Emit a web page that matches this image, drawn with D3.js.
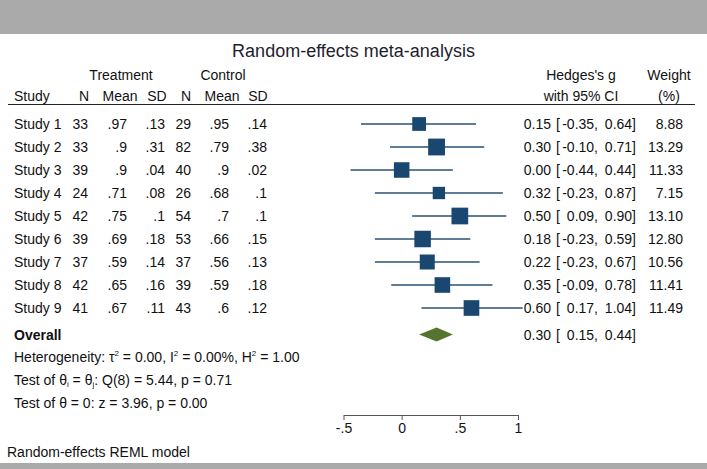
<!DOCTYPE html>
<html>
<head>
<meta charset="utf-8">
<script src="https://cdn.jsdelivr.net/npm/d3@7"></script>
<style>
  body { margin: 0; background: #fff; }
  svg text { font-family: "Liberation Sans", Arial, sans-serif; fill: #111; }
</style>
</head>
<body>
<svg id="mainsvg" width="707" height="469"></svg>
<script>
// study table
const studies  = ["Study 1","Study 2","Study 3","Study 4","Study 5","Study 6","Study 7","Study 8","Study 9"];
const trtN     = [33, 33, 39, 24, 42, 39, 37, 42, 41];
const trtMean  = [.97, .9, .9, .71, .75, .69, .59, .65, .67];
const trtSD    = [.13, .31, .04, .08, .1, .18, .14, .16, .11];
const ctlN     = [29, 82, 40, 26, 54, 53, 37, 39, 43];
const ctlMean  = [.95, .79, .9, .68, .7, .66, .56, .59, .6];
const ctlSD    = [.14, .38, .02, .1, .1, .15, .13, .18, .12];
// effect sizes
const effect   = [0.15, 0.30, 0.00, 0.32, 0.50, 0.18, 0.22, 0.35, 0.60];
const lower    = [-0.35, -0.10, -0.44, -0.23, 0.09, -0.23, -0.23, -0.09, 0.17];
const upper    = [0.64, 0.71, 0.44, 0.87, 0.90, 0.59, 0.67, 0.78, 1.04];
const weight   = [8.88, 13.29, 11.33, 7.15, 13.10, 12.80, 10.56, 11.41, 11.49];
const overall  = [0.30, 0.15, 0.44];
const ticks    = [-0.5, 0, 0.5, 1];

const svg = d3.select("#mainsvg");
const fs = 14;

// gray bands
svg.append("rect").attr("x", 0).attr("y", 0).attr("width", 707).attr("height", 34).attr("fill", "#aaaaaa");
svg.append("rect").attr("x", 0).attr("y", 463).attr("width", 707).attr("height", 6).attr("fill", "#aaaaaa");

svg.append("text").attr("x", 353.5).attr("y", 57).attr("text-anchor", "middle")
  .style("font-size", "18px").style("fill", "#1e1e2e").text("Random-effects meta-analysis");

function txt(x, y, s, anchor) {
  return svg.append("text").attr("x", x).attr("y", y)
    .attr("text-anchor", anchor || "start").style("font-size", fs + "px").text(s);
}

// headers
txt(121, 80, "Treatment", "middle");
txt(223, 80, "Control", "middle");
txt(581, 80, "Hedges's g", "middle");
txt(669, 80, "Weight", "middle");
txt(14, 101, "Study");
[["N", 84], ["Mean", 120], ["SD", 157], ["N", 186], ["Mean", 222], ["SD", 258]]
  .forEach(h => txt(h[1], 101, h[0], "middle"));
txt(581, 101, "with 95% CI", "middle");
txt(669, 101, "(%)", "middle");

svg.append("line").attr("x1", 8).attr("x2", 695).attr("y1", 104.5).attr("y2", 104.5)
  .style("stroke", "#222").style("stroke-width", 1);

const y = d3.scaleLinear().domain([0, 8]).range([124, 308]);
const x = d3.scaleLinear().domain([-0.5, 1]).range([343.5, 518]);
const short = v => String(v).replace(/^0\./, ".");
const f2 = v => d3.format(".2f")(v).replace("\u2212", "-");

studies.forEach((s, i) => {
  const yb = y(i) + 5;
  txt(14, yb, s);
  txt(88, yb, trtN[i], "end");
  txt(127, yb, short(trtMean[i]), "end");
  txt(165, yb, short(trtSD[i]), "end");
  txt(191, yb, ctlN[i], "end");
  txt(229, yb, short(ctlMean[i]), "end");
  txt(267, yb, short(ctlSD[i]), "end");
  txt(551, yb, f2(effect[i]), "end");
  txt(556, yb, "[");
  txt(598, yb, f2(lower[i]) + ",", "end");
  txt(636, yb, f2(upper[i]) + "]", "end");
  txt(683, yb, f2(weight[i]), "end");
});

// CI lines and squares
const g = svg.append("g");
g.selectAll("line.ci").data(studies).enter().append("line")
  .attr("x1", (d, i) => x(lower[i])).attr("x2", (d, i) => x(upper[i]))
  .attr("y1", (d, i) => y(i)).attr("y2", (d, i) => y(i))
  .style("stroke", "#2b5275").style("stroke-width", 1.4);
const side = d3.scaleSqrt().domain([0, 10]).range([0, 14.6]);
g.selectAll("rect.box").data(studies).enter().append("rect")
  .attr("x", (d, i) => x(effect[i]) - side(weight[i]) / 2)
  .attr("y", (d, i) => y(i) - side(weight[i]) / 2)
  .attr("width", (d, i) => side(weight[i]))
  .attr("height", (d, i) => side(weight[i]))
  .style("fill", "#1a476f");

// overall
const yo = 334.5;
g.append("path")
  .attr("d", d3.line()([[x(overall[1]), yo], [x(overall[0]), yo - 7], [x(overall[2]), yo], [x(overall[0]), yo + 7]]) + "Z")
  .style("fill", "#55752f");
txt(14, 340, "Overall").style("font-weight", "bold");
txt(551, 340, f2(overall[0]), "end");
txt(556, 340, "[");
txt(598, 340, f2(overall[1]) + ",", "end");
txt(636, 340, f2(overall[2]) + "]", "end");

// statistics
const het = txt(14, 362, "Heterogeneity: τ");
het.append("tspan").attr("dy", -6).style("font-size", "8px").text("2");
het.append("tspan").attr("dy", 6).text(" = 0.00, I");
het.append("tspan").attr("dy", -6).style("font-size", "8px").text("2");
het.append("tspan").attr("dy", 6).text(" = 0.00%, H");
het.append("tspan").attr("dy", -6).style("font-size", "8px").text("2");
het.append("tspan").attr("dy", 6).text(" = 1.00");

const tq = txt(14, 385, "Test of θ");
tq.append("tspan").attr("dy", 2).style("font-size", "8px").text("i");
tq.append("tspan").attr("dy", -2).text(" = θ");
tq.append("tspan").attr("dy", 2).style("font-size", "8px").text("j");
tq.append("tspan").attr("dy", -2).text(": Q(8) = 5.44, p = 0.71");

txt(14, 408, "Test of θ = 0: z = 3.96, p = 0.00");
txt(7, 457, "Random-effects REML model");

// axis
const axis = svg.append("g").attr("transform", "translate(0,415)")
  .call(d3.axisBottom(x).tickValues(ticks).tickSize(5).tickSizeOuter(0)
    .tickFormat(v => v === 0 ? "0" : short(v).replace("-0.", "-.")));
axis.selectAll("path, line").style("stroke", "#555");
axis.selectAll("text").style("font-size", fs + "px").style("fill", "#111")
  .attr("y", 8).attr("dy", "0.71em");
</script>
</body>
</html>
